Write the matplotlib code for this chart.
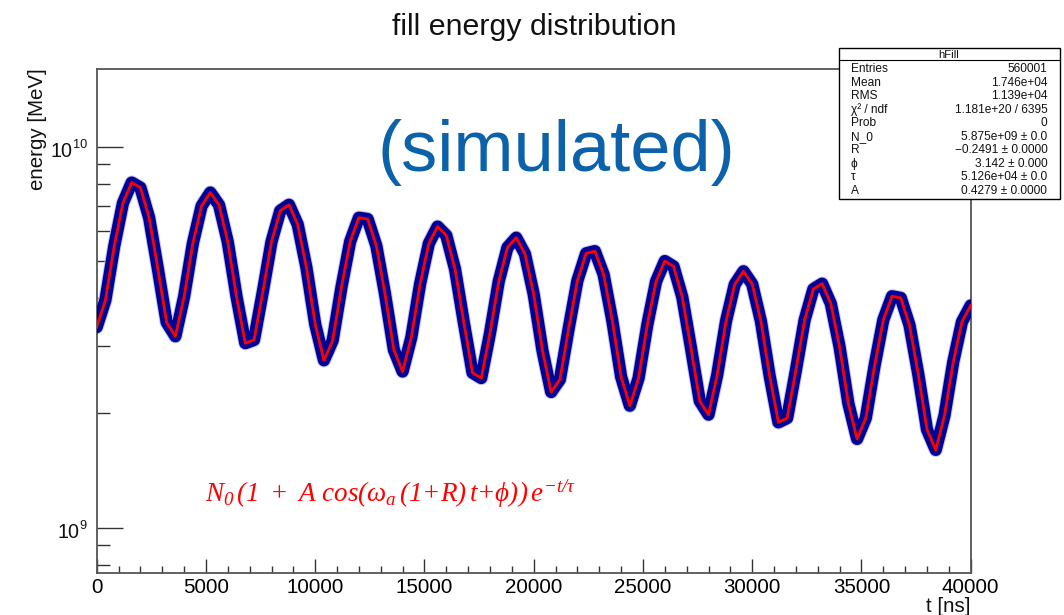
import matplotlib

matplotlib.use("Agg")
import matplotlib.pyplot as plt
import numpy as np
from matplotlib.ticker import LogLocator, MultipleLocator, NullFormatter

W, H = 1064, 615

# fill energy in units of 1e9 MeV, every 400 ns (0 .. 40000 ns)
t_ns = list(range(0, 40001, 400))
energy_e9 = [
    3.36, 3.96, 5.47, 7.11, 8.05, 7.81, 6.51, 4.78, 3.46, 3.18,
    4.04, 5.57, 6.99, 7.58, 7.03, 5.62, 4.04, 3.05, 3.11, 4.15,
    5.63, 6.79, 7.04, 6.25, 4.81, 3.42, 2.75, 3.10, 4.27, 5.64,
    6.51, 6.46, 5.49, 4.09, 2.93, 2.57, 3.16, 4.36, 5.57, 6.17,
    5.85, 4.77, 3.46, 2.55, 2.47, 3.24, 4.43, 5.44, 5.77, 5.23,
    4.10, 2.92, 2.27, 2.45, 3.33, 4.45, 5.25, 5.32, 4.62, 3.49,
    2.49, 2.09, 2.47, 3.41, 4.43, 5.01, 4.85, 4.03, 2.96, 2.15,
    1.98, 2.52, 3.48, 4.35, 4.71, 4.36, 3.48, 2.50, 1.89, 1.94,
    2.59, 3.51, 4.23, 4.37, 3.87, 2.98, 2.12, 1.71, 1.94, 2.66,
    3.51, 4.05, 4.01, 3.40, 2.53, 1.81, 1.60, 1.97, 2.72, 3.47,
    3.83,
]

x_ticks = [0, 5000, 10000, 15000, 20000, 25000, 30000, 35000, 40000]
y_label_exps = [9, 10]

stats_names = ["Entries", "Mean", "RMS", "χ² / ndf", "Prob",
               "N_0", "R", "ϕ", "τ", "A"]
stats_values = ["560001", "1.746e+04", "1.139e+04", "1.181e+20 / 6395", "0",
                "5.875e+09 ± 0.0", "−0.2491 ± 0.0000", "3.142 ± 0.000",
                "5.126e+04 ± 0.0", "0.4279 ± 0.0000"]

plt.rcParams["font.family"] = ["Liberation Sans", "DejaVu Sans"]
plt.rcParams["mathtext.fontset"] = "custom"
plt.rcParams["mathtext.rm"] = "Liberation Serif:italic"
plt.rcParams["mathtext.it"] = "Liberation Serif:italic"


def fx(x):
    return x / W


def fy(y):
    return 1 - y / H


fig = plt.figure(figsize=(W / 100, H / 100), dpi=100)
ax_left, ax_right, ax_top, ax_bottom = 96.7, 970.7, 69.3, 572.7
ax = fig.add_axes([fx(ax_left), fy(ax_bottom),
                   (ax_right - ax_left) / W, (ax_bottom - ax_top) / H])

energy = np.array(energy_e9) * 1e9

# data band (blue) and fit (red)
ax.plot(t_ns, energy, color="#c4c4ec", lw=10.2, solid_joinstyle="round",
        solid_capstyle="round", zorder=2)
ax.plot(t_ns, energy, color="#000096", lw=8.8, solid_joinstyle="round",
        solid_capstyle="round", zorder=3)
ax.plot(t_ns, energy, color="#ff0000", lw=2.0, zorder=4)

ax.set_yscale("log")
ax.set_xlim(0, 40000)
ax.set_ylim(10 ** 8.8819, 10 ** 10.2031)

ax.set_xticks(x_ticks)
ax.xaxis.set_minor_locator(MultipleLocator(1000))
ax.yaxis.set_major_locator(LogLocator(base=10))
ax.yaxis.set_minor_locator(LogLocator(base=10, subs=np.arange(2, 10)))
ax.yaxis.set_major_formatter(NullFormatter())
ax.yaxis.set_minor_formatter(NullFormatter())

ax.tick_params(axis="x", which="major", direction="in", length=10, width=1,
               labelsize=14.8, pad=4.0, color="#333333", top=False)
ax.tick_params(axis="x", which="minor", direction="in", length=5.2, width=1,
               color="#333333", top=False)
ax.tick_params(axis="y", which="major", direction="in", length=19, width=1,
               color="#333333", right=False)
ax.tick_params(axis="y", which="minor", direction="in", length=9.6, width=1,
               color="#333333", right=False)
for s in ax.spines.values():
    s.set_color("#555555")
    s.set_linewidth(1.3)

# y tick labels 10^n drawn as base + superscript
ytrans = ax.get_yaxis_transform()
span = ax_right - ax_left
for e in y_label_exps:
    exp_txt = str(e)
    exp_right = -(ax_left - 87) / span
    base_right = -(ax_left - (87 - 7.1 * len(exp_txt) - 0.8)) / span
    ax.annotate(exp_txt, xy=(exp_right, 10.0 ** e), xycoords=ytrans,
                xytext=(0, -1.6 * 0.72), textcoords="offset points",
                ha="right", va="baseline", fontsize=9.2, color="#111111",
                annotation_clip=False)
    ax.annotate("10", xy=(base_right, 10.0 ** e), xycoords=ytrans,
                xytext=(0, -10.0 * 0.72), textcoords="offset points",
                ha="right", va="baseline", fontsize=14.2, color="#111111",
                annotation_clip=False)

# titles and labels
fig.text(fx(533.8), fy(35), "fill energy distribution", ha="center",
         va="baseline", fontsize=21.9, color="#111111")
fig.text(fx(37.5), fy(68), "energy [MeV]", rotation=90, ha="center",
         va="top", fontsize=14.8, color="#111111")
fig.text(fx(970), fy(612), "t [ns]", ha="right", va="baseline",
         fontsize=14.8, color="#111111")

fig.text(fx(556.7), fy(170.7), "(simulated)", ha="center", va="baseline",
         fontsize=52, color="#0b62aa")

fig.text(fx(205), fy(502),
         r"$N_{0}\,(1\ +\ A\ cos(\omega_{a}\,(1{+}R)\,t{+}\phi))\,e^{-t/\tau}$",
         ha="left", va="baseline", fontsize=19.5, color="#ff0000")

# stats box
bx0, by0, bx1, by1 = 839, 47.7, 1059.7, 199
box = plt.Rectangle((fx(bx0), fy(by1)), (bx1 - bx0) / W, (by1 - by0) / H,
                    transform=fig.transFigure, facecolor="white",
                    edgecolor="black", lw=1.0, zorder=5)
fig.add_artist(box)
fig.add_artist(plt.Line2D([fx(bx0), fx(bx1)], [fy(60.2), fy(60.2)],
                          transform=fig.transFigure, color="black", lw=0.8,
                          zorder=6))
fig.text(fx(949), fy(58.3), "hFill", ha="center", va="baseline", fontsize=8.2,
         color="#111111", zorder=7)
row0, row_step = 69.5, 13.45
for i, (name, val) in enumerate(zip(stats_names, stats_values)):
    yy = fy(row0 + i * row_step)
    fig.text(fx(850.7), yy, name, ha="left", va="center", fontsize=8.6,
             color="#111111", zorder=7)
    fig.text(fx(1047.3), yy, val, ha="right", va="center", fontsize=8.6,
             color="#111111", zorder=7)

fig.savefig("out.png", dpi=100)
plt.close(fig)
